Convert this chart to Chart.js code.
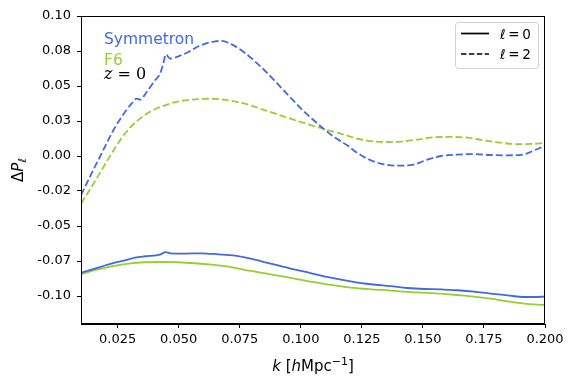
<!DOCTYPE html>
<html>
<head>
<meta charset="utf-8">
<script src="https://cdn.jsdelivr.net/npm/chart.js@4.4.1/dist/chart.umd.min.js"></script>
<style>
  html, body { margin: 0; padding: 0; background: #fff; }
</style>
</head>
<body>
<canvas id="chart" width="574" height="385"></canvas>
<script>
// Symmetron, l = 2 (dashed)
const kSym2 = [0.010, 0.0143, 0.0184, 0.0225, 0.0266, 0.0307, 0.0328, 0.0342, 0.0369, 0.0403,
  0.0424, 0.0437, 0.0447, 0.0465, 0.0499, 0.054, 0.0581, 0.0635, 0.0675, 0.0725, 0.0766,
  0.0807, 0.0848, 0.0889, 0.093, 0.0971, 0.1012, 0.1053, 0.1094, 0.1135, 0.119, 0.1217,
  0.1272, 0.1327, 0.1395, 0.1463, 0.1518, 0.1573, 0.1641, 0.1709, 0.1777, 0.1846, 0.1914,
  0.1955, 0.2];
const sym2 = [-0.028, -0.0126, 0.0017, 0.016, 0.0279, 0.0374, 0.041, 0.0403, 0.0457, 0.054,
  0.0589, 0.066, 0.0726, 0.0696, 0.0712, 0.0743, 0.0784, 0.0814, 0.0822, 0.079, 0.0743,
  0.0684, 0.0618, 0.0545, 0.0469, 0.0394, 0.0320, 0.0255, 0.0194, 0.0138, 0.0076, 0.004,
  -0.0019, -0.0054, -0.0069, -0.0061, -0.0026, 0.0, 0.001, 0.0014, 0.0007, 0.0005, 0.0012,
  0.004, 0.0074];

// F6, l = 2 (dashed)
const kF62 = [0.010, 0.0143, 0.0184, 0.0225, 0.0266, 0.0307, 0.0348, 0.0389, 0.0444, 0.0499,
  0.0567, 0.0635, 0.0684, 0.0739, 0.0794, 0.0848, 0.0903, 0.0958, 0.1012, 0.1067, 0.1122,
  0.1163, 0.1217, 0.1272, 0.134, 0.1409, 0.1477, 0.1545, 0.1614, 0.1682, 0.175, 0.1818,
  0.1887, 0.1941, 0.2];
const f62 = [-0.034, -0.0221, -0.0102, 0.0017, 0.0128, 0.0214, 0.0276, 0.0322, 0.0362, 0.0390,
  0.0405, 0.0409, 0.0402, 0.0386, 0.0362, 0.0330, 0.0298, 0.0267, 0.0236, 0.0207, 0.0179,
  0.016, 0.0131, 0.0110, 0.0100, 0.0103, 0.0117, 0.0134, 0.0136, 0.0131, 0.0112, 0.0095,
  0.0085, 0.0086, 0.0093];

// Symmetron, l = 0 (solid)
const kSym0 = [0.010, 0.0157, 0.0225, 0.028, 0.0321, 0.0362, 0.0424, 0.0447, 0.0465, 0.0526,
  0.0594, 0.0663, 0.0731, 0.0794, 0.0876, 0.0958, 0.104, 0.1122, 0.1204, 0.1286, 0.1368,
  0.1436, 0.1504, 0.1573, 0.1641, 0.1709, 0.1777, 0.1846, 0.1914, 0.1955, 0.2];
const sym0 = [-0.0833, -0.0804, -0.0769, -0.0745, -0.0726, -0.0716, -0.0704, -0.0686, -0.0695,
  -0.0697, -0.0695, -0.0702, -0.0712, -0.0733, -0.0769, -0.0804, -0.0836, -0.0869, -0.0895,
  -0.0916, -0.093, -0.0943, -0.095, -0.0952, -0.0959, -0.0969, -0.0983, -0.0995, -0.1007,
  -0.1007, -0.1004];

// F6, l = 0 (solid)
const kF60 = [0.010, 0.0157, 0.0225, 0.0294, 0.0362, 0.043, 0.0499, 0.0567, 0.0635, 0.0704,
  0.0794, 0.0876, 0.0958, 0.104, 0.1122, 0.1204, 0.1286, 0.1368, 0.1436, 0.1504, 0.1573,
  0.1641, 0.1709, 0.1777, 0.1846, 0.1914, 0.2];
const f60 = [-0.0845, -0.0816, -0.0788, -0.0769, -0.0759, -0.0757, -0.0759, -0.0766, -0.0776,
  -0.079, -0.0821, -0.0845, -0.0871, -0.0897, -0.0921, -0.094, -0.0952, -0.0961, -0.0970,
  -0.0976, -0.0983, -0.0993, -0.1004, -0.1019, -0.1038, -0.1054, -0.1064];

const xTicks = [0.025, 0.05, 0.075, 0.1, 0.125, 0.15, 0.175, 0.2];
const xTickLabels = ["0.025", "0.050", "0.075", "0.100", "0.125", "0.150", "0.175", "0.200"];
const yTicks = [-0.1, -0.075, -0.05, -0.025, 0, 0.025, 0.05, 0.075, 0.1];
const yTickLabels = ["-0.10", "-0.07", "-0.05", "-0.02", "0.00", "0.03", "0.05", "0.08", "0.10"];

const BLUE = "#4169e1";
const GREEN = "#9acd32";
const DASH = [7, 3];

const pts = (ks, vs) => ks.map((k, i) => ({ x: k, y: vs[i] }));

// draw a row of text pieces with mixed fonts, left aligned at x
function drawRuns(ctx, runs, x, y) {
  runs.forEach((r) => {
    ctx.font = r.font;
    ctx.fillText(r.t, x, y + (r.dy || 0));
    x += ctx.measureText(r.t).width;
  });
}
function runsWidth(ctx, runs) {
  let w = 0;
  runs.forEach((r) => {
    ctx.font = r.font;
    w += ctx.measureText(r.t).width;
  });
  return w;
}

const decorPlugin = {
  id: "decor",
  afterDraw(chart) {
    const { ctx, chartArea: { left, right, top, bottom } } = chart;
    ctx.save();

    // frame
    ctx.strokeStyle = "#000";
    ctx.lineWidth = 1;
    ctx.strokeRect(Math.round(left) + 0.5, Math.round(top) + 0.5,
      Math.round(right - left) - 1, Math.round(bottom - top) - 1);

    // annotation
    ctx.textBaseline = "alphabetic";
    ctx.fillStyle = BLUE;
    ctx.font = "15.5px 'DejaVu Sans'";
    ctx.fillText("Symmetron", 104, 44);
    ctx.fillStyle = GREEN;
    ctx.fillText("F6", 104, 65);
    ctx.fillStyle = "#000";
    drawRuns(ctx, [
      { t: "z", font: "italic 16px 'DejaVu Serif'" },
      { t: " = 0", font: "16px 'DejaVu Serif'" },
    ], 104, 78.5);

    // x label
    const xl = [
      { t: "k", font: "italic 15px 'DejaVu Sans'" },
      { t: " [", font: "15px 'DejaVu Sans'" },
      { t: "h", font: "italic 15px 'DejaVu Sans'" },
      { t: "Mpc", font: "15px 'DejaVu Sans'" },
      { t: "\u22121", font: "11px 'DejaVu Sans'", dy: -6 },
      { t: "]", font: "15px 'DejaVu Sans'" },
    ];
    drawRuns(ctx, xl, 313 - runsWidth(ctx, xl) / 2, 371);

    // y label
    const yl = [
      { t: "\u0394", font: "15px 'DejaVu Sans'" },
      { t: "P", font: "italic 15px 'DejaVu Sans'" },
      { t: "\u2113", font: "italic 11px 'DejaVu Sans'", dy: 3 },
    ];
    ctx.translate(23, 170);
    ctx.rotate(-Math.PI / 2);
    drawRuns(ctx, yl, -runsWidth(ctx, yl) / 2, 0);
    ctx.setTransform(1, 0, 0, 1, 0, 0);

    // legend
    const bx = 455.5, by = 22.5, bw = 83, bh = 46, r = 3;
    ctx.beginPath();
    ctx.roundRect(bx, by, bw, bh, r);
    ctx.fillStyle = "rgba(255,255,255,0.8)";
    ctx.fill();
    ctx.strokeStyle = "#d0d0d0";
    ctx.lineWidth = 1;
    ctx.stroke();

    const rows = [
      { y: 33.5, dash: [], lab: "0" },
      { y: 54, dash: [5.5, 2.4], lab: "2" },
    ];
    rows.forEach((row) => {
      ctx.strokeStyle = "#000";
      ctx.lineWidth = 1.7;
      ctx.setLineDash(row.dash);
      ctx.beginPath();
      ctx.moveTo(461, row.y);
      ctx.lineTo(489, row.y);
      ctx.stroke();
      ctx.setLineDash([]);
      ctx.fillStyle = "#000";
      drawRuns(ctx, [
        { t: "\u2113", font: "italic 13.5px 'DejaVu Sans'" },
        { t: "\u2009=\u2009" + row.lab, font: "13.5px 'DejaVu Sans'" },
      ], 500, row.y + 5);
    });

    ctx.restore();
  },
};

const lineDefaults = {
  pointRadius: 0,
  borderWidth: 1.8,
  fill: false,
  cubicInterpolationMode: "monotone",
};

new Chart(document.getElementById("chart").getContext("2d"), {
  type: "line",
  data: {
    datasets: [
      { ...lineDefaults, label: "Symmetron l=0", data: pts(kSym0, sym0), borderColor: BLUE },
      { ...lineDefaults, label: "F6 l=0", data: pts(kF60, f60), borderColor: GREEN },
      { ...lineDefaults, label: "Symmetron l=2", data: pts(kSym2, sym2), borderColor: BLUE, borderDash: DASH },
      { ...lineDefaults, label: "F6 l=2", data: pts(kF62, f62), borderColor: GREEN, borderDash: DASH },
    ],
  },
  options: {
    responsive: false,
    animation: false,
    layout: { padding: { left: 0, right: 29, top: 16, bottom: 0 } },
    plugins: { legend: { display: false }, tooltip: { enabled: false } },
    scales: {
      x: {
        type: "linear",
        min: 0.01,
        max: 0.2,
        afterBuildTicks: (s) => { s.ticks = xTicks.map((v) => ({ value: v })); },
        afterFit: (s) => { s.height = 61; },
        ticks: {
          autoSkip: false,
          maxRotation: 0,
          padding: 4,
          color: "#000",
          font: { family: "DejaVu Sans", size: 13 },
          callback: (v, i) => xTickLabels[i],
        },
        grid: { drawOnChartArea: false, drawTicks: true, tickLength: 4, tickColor: "#000" },
        border: { display: true, color: "#000", width: 1 },
      },
      y: {
        type: "linear",
        min: -0.12,
        max: 0.1,
        afterBuildTicks: (s) => { s.ticks = yTicks.map((v) => ({ value: v })); },
        afterFit: (s) => { s.width = 81; },
        ticks: {
          autoSkip: false,
          padding: 6,
          color: "#000",
          font: { family: "DejaVu Sans", size: 13 },
          callback: (v, i) => yTickLabels[i],
        },
        grid: { drawOnChartArea: false, drawTicks: true, tickLength: 4, tickColor: "#000" },
        border: { display: true, color: "#000", width: 1 },
      },
    },
  },
  plugins: [decorPlugin],
});
</script>
</body>
</html>
